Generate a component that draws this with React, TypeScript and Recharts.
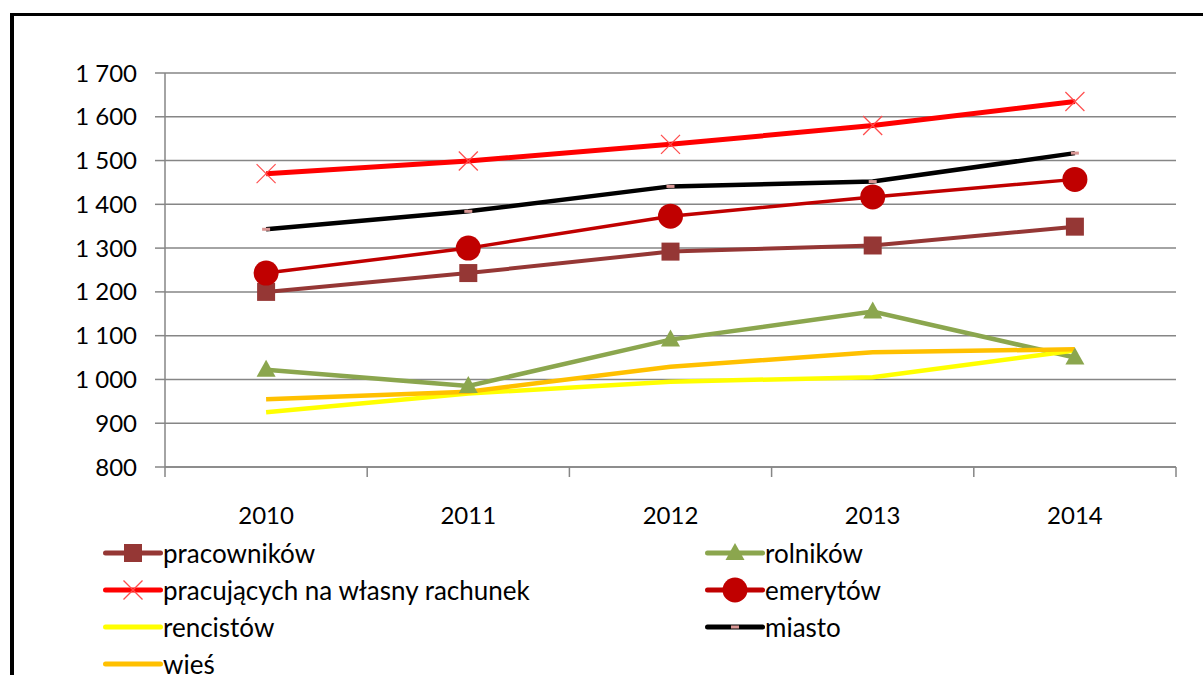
import React from 'react';
import { LineChart, Line, XAxis, YAxis, CartesianGrid } from 'recharts';

const years = ['2010', '2011', '2012', '2013', '2014'];
const yTicks = [800, 900, 1000, 1100, 1200, 1300, 1400, 1500, 1600, 1700];
const pracownikow = [1200, 1243, 1292, 1306, 1349];
const rolnikow = [1022, 985, 1091, 1155, 1050];
const pracujacych = [1470, 1499, 1537, 1580, 1635];
const emerytow = [1243, 1300, 1373, 1417, 1457];
const rencistow = [925, 968, 995, 1005, 1066];
const miasto = [1343, 1384, 1441, 1452, 1517];
const wies = [955, 972, 1029, 1062, 1069];

const FONT = 'Lato, "Open Sans", sans-serif';
const W = 1203;
const H = 675;
const PLOT_LEFT = 165;
const PLOT_RIGHT = 1176;
const PLOT_TOP = 73;
const PLOT_BOTTOM = 467;
const BAND = (PLOT_RIGHT - PLOT_LEFT) / years.length;
const GRID = '#868686';

type MarkerKind = 'square' | 'triangle' | 'x' | 'circle' | 'none' | 'dash';

const series: { key: string; name: string; values: number[]; color: string; width: number; marker: MarkerKind; markerColor: string }[] = [
  { key: 'pracownikow', name: 'pracowników', values: pracownikow, color: '#953735', width: 4, marker: 'square', markerColor: '#953735' },
  { key: 'rolnikow', name: 'rolników', values: rolnikow, color: '#8BA64E', width: 4.5, marker: 'triangle', markerColor: '#8BA64E' },
  { key: 'pracujacych', name: 'pracujących na własny rachunek', values: pracujacych, color: '#FF0000', width: 5, marker: 'x', markerColor: '#FF4B4B' },
  { key: 'emerytow', name: 'emerytów', values: emerytow, color: '#C00000', width: 3.5, marker: 'circle', markerColor: '#C00000' },
  { key: 'rencistow', name: 'rencistów', values: rencistow, color: '#FFFF00', width: 4.5, marker: 'none', markerColor: '#FFFF00' },
  { key: 'miasto', name: 'miasto', values: miasto, color: '#000000', width: 4.5, marker: 'dash', markerColor: '#D99694' },
  { key: 'wies', name: 'wieś', values: wies, color: '#FFC000', width: 4.5, marker: 'none', markerColor: '#FFC000' },
];

const data = years.map((y, i) => {
  const row: Record<string, string | number> = { year: y };
  series.forEach((s) => {
    row[s.key] = s.values[i];
  });
  return row;
});

function Marker({ kind, cx, cy, color }: { kind: MarkerKind; cx: number; cy: number; color: string }) {
  switch (kind) {
    case 'square':
      return <rect x={cx - 9} y={cy - 9} width={18} height={18} fill={color} />;
    case 'triangle':
      return <polygon points={`${cx},${cy - 10} ${cx + 9.5},${cy + 7} ${cx - 9.5},${cy + 7}`} fill={color} />;
    case 'circle':
      return <circle cx={cx} cy={cy} r={12.5} fill={color} />;
    case 'x':
      return (
        <g stroke={color} strokeWidth={1.2}>
          <line x1={cx - 9.5} y1={cy - 9.5} x2={cx + 9.5} y2={cy + 9.5} />
          <line x1={cx - 9.5} y1={cy + 9.5} x2={cx + 9.5} y2={cy - 9.5} />
        </g>
      );
    case 'dash':
      return <rect x={cx - 4} y={cy - 1.5} width={8} height={3} fill={color} />;
    default:
      return <g />;
  }
}

const fmt = (v: number) => {
  const s = String(v);
  return s.length > 3 ? s.slice(0, s.length - 3) + ' ' + s.slice(-3) : s;
};

const XTick = (props: any) => {
  const { x, payload, index } = props;
  const left = x - BAND / 2;
  const right = x + BAND / 2;
  return (
    <g>
      <line x1={left} y1={PLOT_BOTTOM} x2={left} y2={PLOT_BOTTOM + 10} stroke={GRID} strokeWidth={1.5} />
      {index === years.length - 1 && (
        <line x1={right} y1={PLOT_BOTTOM} x2={right} y2={PLOT_BOTTOM + 10} stroke={GRID} strokeWidth={1.5} />
      )}
      <text x={x} y={PLOT_BOTTOM + 57} textAnchor="middle" fontSize={24} fontFamily={FONT} fill="#000">
        {payload.value}
      </text>
    </g>
  );
};

function LegendItem({ s, left, top }: { s: (typeof series)[number]; left: number; top: number }) {
  return (
    <div style={{ position: 'absolute', left, top: top - 18, height: 36, display: 'flex', alignItems: 'center' }}>
      <svg width={60} height={36} style={{ display: 'block' }}>
        <line x1={2.5} y1={18} x2={57.5} y2={18} stroke={s.color} strokeWidth={5} strokeLinecap="round" />
        <Marker kind={s.marker} cx={30} cy={18} color={s.markerColor} />
      </svg>
      <span style={{ fontFamily: FONT, fontSize: 26, color: '#000', whiteSpace: 'nowrap', marginLeft: 0 }}>{s.name}</span>
    </div>
  );
}

export default function App() {
  const rowsY = [553, 590, 627, 664];
  return (
    <div style={{ position: 'absolute', left: 0, top: 0, width: W, height: H, overflow: 'hidden', background: '#fff' }}>
      <div
        style={{
          position: 'absolute',
          left: 10,
          top: 13,
          width: 1300,
          height: 800,
          borderLeft: '4px solid #000',
          borderTop: '3px solid #000',
        }}
      />
      <div style={{ position: 'absolute', left: 0, top: 0 }}>
        <LineChart
          width={W}
          height={H}
          data={data}
          margin={{ top: PLOT_TOP, right: W - PLOT_RIGHT, left: PLOT_LEFT - 60, bottom: H - PLOT_BOTTOM - 60 }}
        >
          <CartesianGrid vertical={false} stroke={GRID} strokeWidth={1.5} />
          <XAxis
            dataKey="year"
            scale="band"
            height={60}
            tickLine={false}
            axisLine={{ stroke: GRID, strokeWidth: 1.5 }}
            tick={<XTick />}
            interval={0}
          />
          <YAxis
            width={60}
            domain={[800, 1700]}
            ticks={yTicks}
            interval={0}
            tickFormatter={fmt}
            tickSize={10}
            tickMargin={18}
            tickLine={{ stroke: GRID, strokeWidth: 1.5 }}
            axisLine={{ stroke: GRID, strokeWidth: 1.5 }}
            tick={{ fontSize: 24, fontFamily: FONT, fill: '#000' }}
          />
          {series.map((s) => (
            <Line
              key={s.key}
              dataKey={s.key}
              name={s.name}
              stroke={s.color}
              strokeWidth={s.width}
              isAnimationActive={false}
              dot={(p: any) => (
                <Marker key={`${s.key}-${p.index}`} kind={s.marker} cx={p.cx} cy={p.cy} color={s.markerColor} />
              )}
              activeDot={false}
            />
          ))}
        </LineChart>
      </div>
      {series.map((s, i) => (
        <LegendItem key={s.key} s={s} left={i % 2 === 0 ? 103 : 705} top={rowsY[Math.floor(i / 2)]} />
      ))}
    </div>
  );
}
